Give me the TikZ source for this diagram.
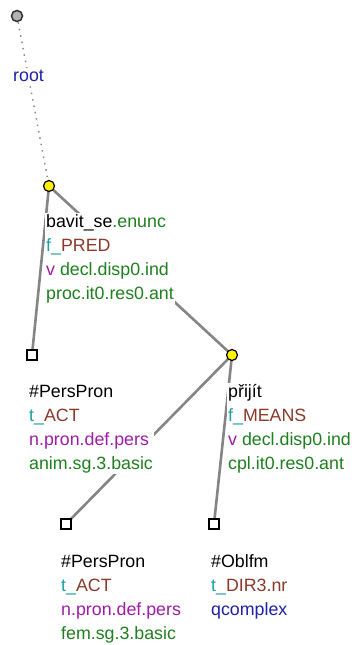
\documentclass[tikz,border=0pt]{standalone}
\usepackage{fontspec}
\setmainfont{Liberation Sans}
\definecolor{cgreen}{HTML}{1F801F}
\definecolor{cteal}{HTML}{1AA0A0}
\definecolor{cbrown}{HTML}{8B3A2A}
\definecolor{cpurple}{HTML}{A01CA8}
\definecolor{cblue}{HTML}{2020A8}
\definecolor{cedge}{HTML}{858585}
\tikzset{
  rootnode/.style={circle, draw=black!80, line width=1.5pt, fill=black!30, minimum size=11pt, inner sep=0pt},
  yelnode/.style={circle, draw=black, line width=1.2pt, fill=yellow, minimum size=11pt, inner sep=0pt},
  sqnode/.style={rectangle, draw=black, line width=1.5pt, fill=white, minimum size=10pt, inner sep=0pt},
  edge/.style={draw=cedge, line width=2.6pt},
  dotedge/.style={draw=black!45, line width=1.5pt, dash pattern=on 1.5pt off 5pt},
  lbl/.style={anchor=base west, inner sep=1pt, fill=white, align=left, font=\fontsize{17.8}{24}\selectfont}
}
\begin{document}
\begin{tikzpicture}[x=1pt,y=-1pt]
\useasboundingbox (0,0) rectangle (360,645);
\coordinate (r) at (17,16);
\coordinate (b) at (49,186);
\coordinate (p1) at (32,355);
\coordinate (pr) at (232,355);
\coordinate (p2) at (66,524);
\coordinate (ob) at (214,524);
\draw[dotedge] (r) -- (b);
\draw[edge] (b) -- (p1);
\draw[edge] (b) -- (pr);
\draw[edge] (pr) -- (p2);
\draw[edge] (pr) -- (ob);
% base anchor of a multi-line node = baseline of its last line
\node[lbl] (lr) at (12,81) {\textcolor{cblue}{root}};
\node[lbl] (lb) at (45,299) {bavit\_se\textcolor{cgreen}{.enunc}\\
\textcolor{cteal}{f\_}\textcolor{cbrown}{PRED}\\
\textcolor{cpurple}{v} \textcolor{cgreen}{decl.disp0.ind}\\
\textcolor{cgreen}{proc.it0.res0.ant}};
\node[lbl] (lp1) at (28,469) {\#PersPron\\
\textcolor{cteal}{t\_}\textcolor{cbrown}{ACT}\\
\textcolor{cpurple}{n.pron.def.pers}\\
\textcolor{cgreen}{anim.sg.3.basic}};
\node[lbl] (lpr) at (227,469) {přijít\\
\textcolor{cteal}{f\_}\textcolor{cbrown}{MEANS}\\
\textcolor{cpurple}{v} \textcolor{cgreen}{decl.disp0.ind}\\
\textcolor{cgreen}{cpl.it0.res0.ant}};
\node[lbl] (lp2) at (60,639) {\#PersPron\\
\textcolor{cteal}{t\_}\textcolor{cbrown}{ACT}\\
\textcolor{cpurple}{n.pron.def.pers}\\
\textcolor{cgreen}{fem.sg.3.basic}};
\node[lbl] (lob) at (210,615) {\#Oblfm\\
\textcolor{cteal}{t\_}\textcolor{cbrown}{DIR3.nr}\\
\textcolor{cblue}{qcomplex}};
\node[rootnode] (nr) at (r) {};
\node[yelnode] (nb) at (b) {};
\node[yelnode] (npr) at (pr) {};
\node[sqnode] (np1) at (p1) {};
\node[sqnode] (np2) at (p2) {};
\node[sqnode] (nob) at (ob) {};
\end{tikzpicture}
\end{document}
